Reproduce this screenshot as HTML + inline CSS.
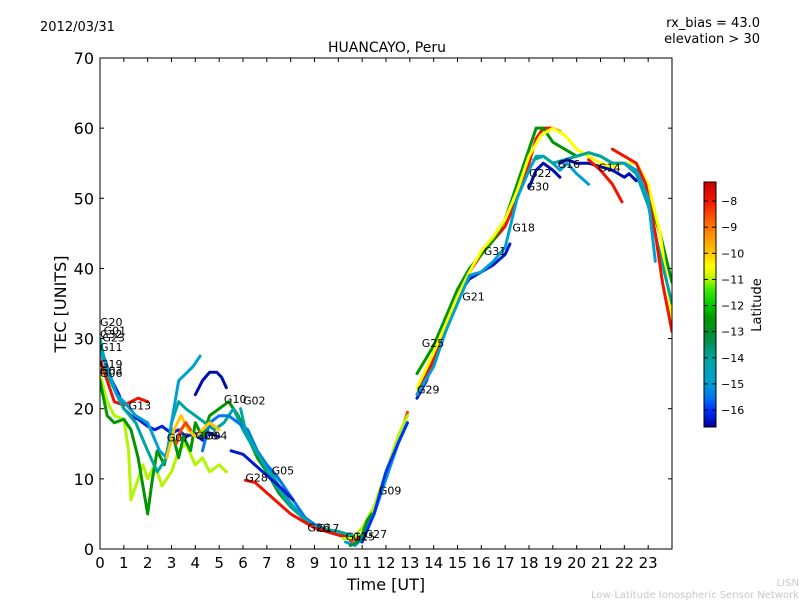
<!DOCTYPE html>
<html><head><meta charset="utf-8"><style>
body{margin:0;background:#fff;}
svg text{font-family:"DejaVu Sans","Liberation Sans",sans-serif;}
</style></head><body>
<svg id="chart" width="800" height="600" xmlns="http://www.w3.org/2000/svg">
<rect width="800" height="600" fill="#fff"/>
<text x="40" y="31" font-size="13">2012/03/31</text>
<text x="760" y="27" font-size="13" text-anchor="end">rx_bias = 43.0</text>
<text x="760" y="43" font-size="13" text-anchor="end">elevation &gt; 30</text>
<text x="387" y="52" font-size="14" text-anchor="middle">HUANCAYO, Peru</text>
<defs><clipPath id="pc"><rect x="100" y="58" width="572" height="491"/></clipPath>
<linearGradient id="cmap" x1="0" y1="1" x2="0" y2="0"></linearGradient></defs>
<g id="series" clip-path="url(#pc)"></g>
<g id="labels"></g>
<rect x="100" y="58" width="572" height="491" fill="none" stroke="#000" stroke-width="1"/>
<g id="axes"></g>
<text x="386" y="590" font-size="16" text-anchor="middle">Time [UT]</text>
<text x="0" y="0" font-size="16" text-anchor="middle" transform="translate(66,304) rotate(-90)">TEC [UNITS]</text>
<rect x="704" y="182" width="12" height="245" fill="url(#cmap)" stroke="#000" stroke-width="1"/>
<g id="cbticks"></g>
<text x="0" y="0" font-size="13" text-anchor="middle" transform="translate(761,305) rotate(-90)">Latitude</text>
<text x="799" y="586" font-size="10" fill="#c8c8c8" text-anchor="end">LISN</text>
<text x="799" y="598" font-size="10" fill="#c8c8c8" text-anchor="end">Low-Latitude Ionospheric Sensor Network</text>
</svg>
<script>
const xTicks=[0,1,2,3,4,5,6,7,8,9,10,11,12,13,14,15,16,17,18,19,20,21,22,23];
const yTicks=[0,10,20,30,40,50,60,70];
const cbTicks=[-8,-9,-10,-11,-12,-13,-14,-15,-16];
const seriesLat=[-16.2,-8,-11,-12.5,-14,-15,-16.5,-15.5,-14.3,-16.3,-8,-10,-8.5,-8.5,-11,-15,-16,-13,-16.3,-8,-12.5,-10.5,-15,-16.5,-14,-8,-16.5,-8,-15];
const seriesT=[
[0,0.2,0.5,0.8,1.0,1.3,1.6,2.0,2.3,2.6,3.0,3.3,3.6,4.0,4.3,4.6,5.0],
[0,0.3,0.6,1.0,1.3,1.6,2.0],
[0,0.3,0.6,1.0,1.2,1.3,1.5,1.8,2.0,2.3,2.6,3.0,3.3,3.6,4.0,4.3,4.6,5.0,5.3],
[0,0.3,0.6,1.0,1.3,1.6,1.8,2.0,2.2,2.4,2.7,3.0,3.3,3.5,3.8,4.0,4.3,4.6,5.0,5.4,5.8,6.2,6.6,7.0,7.5,8.0,8.5,9,9.5,10,10.5],
[0,0.3,0.7,1.0,1.5,2.0,2.4,2.8,3.0,3.3,3.6,4.0,4.4,4.8,5.2,5.6,6.0,6.5,7.0,7.5,8.0,8.5,9.0,9.5,10,10.5,10.8],
[0,0.3,0.7,1.0,1.5,2,2.5,2.8,3.0,3.3,3.6,3.9,4.2],
[4.0,4.3,4.6,4.9,5.1,5.3],
[4.3,4.6,5.0,5.4,5.8,6.2,6.6,7.0,7.4,7.8,8.2,8.6,9,9.5,10,10.5,11],
[5.9,6.1,6.4,6.8,7.2,7.6,8.0,8.5,9.0,9.5,10,10.5],
[5.5,6.0,6.5,7.0,7.5,8.1],
[6.1,6.5,7,7.5,8,8.5,9,9.5,10,10.5],
[2.8,3.1,3.4,3.7,4.0,4.3,4.6,5.0],
[3.2,3.4,3.6,3.8],
[10.5,11,11.5,12,12.5,12.9],
[10.2,10.6,11,11.5,12,12.5,12.9],
[10.3,10.7,11,11.5,12,12.5,12.9],
[11,11.5,12,12.5,12.9],
[10.5,10.8,11,11.2,11.4],
[13.3,13.7,14,14.5,15,15.5,16,16.5,17,17.2],
[13.3,14,14.5,15,15.5,16,16.5,17,17.5,18,18.3,18.6,19,19.3],
[13.3,14,14.5,15,15.5,16,16.5,17,17.5,18,18.3,18.6,19,19.5,20,20.5,21,21.5,22,22.5,23,23.5,24],
[13.3,14,14.5,15,15.5,16,16.5,17,17.5,18,18.5,19,19.5,20,20.5,21,21.5,22,22.5,23,23.5,24],
[13.3,14,14.5,15,15.5,16,16.5,17,17.5,18,18.3,18.6,19,19.3,19.6,20,20.5],
[18.0,18.3,18.6,19.0,19.3],
[18.2,18.6,19,19.5,20,20.5,21,21.5,22,22.5,23,23.5,24],
[21.5,22,22.5,22.9,23.3,23.6,24],
[19.3,19.6,20,20.5,21,21.5,22,22.2,22.5],
[20.5,21,21.5,21.9],
[22,22.5,23,23.3]
];
const seriesV=[
[29,27,24,22,20,19,18.5,17.5,17,17.5,16.5,17,16,16.5,15.5,16.5,16],
[27,24,21,20.5,21,21.5,21],
[25,21,19,18.5,14,7,9,12,10,12,9,11,14,15,12,13,11,12,11],
[24,19,18,18.5,17,13,9,5,10,14,12,17,13,16,14,18,16,19,20,21,19,16,13,11,8,6,4.5,3.5,2.5,2,1.8],
[30,25,22,20,18,14,11,13,18,21,20,19,18,17,18,20,17,14,12,9,6.5,4.5,3.5,2.8,2.5,2,1.5],
[28,26,22,21,19,18,14,13,18,24,25,26,27.5],
[22,24,25.2,25.2,24.5,23],
[14,18,19,19,18,17,14,12,10.5,8.5,6.5,4.5,3.5,2.5,2,1.5,1],
[20,17,15,12.5,10,8,6,4.5,3.2,2.5,2,1.5],
[14,13.5,12,10.5,9,7],
[9.8,9.5,8,6.5,5,4,3,2.5,2,1.5],
[13,17,19,17,16,17,18,17],
[15,17,18,17],
[1,2,5,10,15,19.5],
[1.5,1.5,3,6,11,16,19],
[1,0.5,1.5,5,10,15,18],
[1,5,11,15,18],
[0.5,1,2,4,5],
[21.5,24,27,31,36,38.5,39.5,40.5,42,43.5],
[22,27,31,36,39.5,42,44,46,50,55,58.5,60,60,59.5],
[25,29,33,37,40,42,44,47,52,57,60,60,58,57,56,56.5,56,55,55,54,50,45,38],
[23,28,32,36,39.5,42.5,44.5,47,51,56,59,60,59,57,56,55,54.5,55,55,52,45,33],
[22,26,31,35,39,39.5,41,43,50,54,56,56,55,54,55,53.5,52],
[51.5,54,55,54,53],
[55.5,56,55,55.5,56,56.5,56,55,55,53.5,49,42,35],
[57,56,55,52,45,38,31],
[55,55.5,55,55,54.5,54,53,53.5,52.5],
[55.5,54,52,49.5],
[55,54,50,41]
];
const labelNames=["G20","G01","G32","G23","G11","G19","G03","G06","G13","G07","G08","G04","G10","G02","G05","G28","G26","G17","G12","G15","G27","G09","G29","G25","G21","G31","G18","G30","G22","G16","G14"];
const labelT=[0,0.15,0,0.1,0,0,0,0,1.2,2.8,4.0,4.4,5.2,6.0,7.2,6.1,8.7,9.1,10.3,10.6,11.1,11.7,13.3,13.5,15.2,16.1,17.3,17.9,18.0,19.2,20.9];
const labelV=[31.8,30.6,30.1,29.6,28.2,25.8,24.9,24.5,19.9,15.3,15.6,15.6,20.8,20.6,10.6,9.6,2.5,2.4,1.2,1.2,1.6,7.8,22.2,28.8,35.4,41.9,45.3,51.1,53.0,54.3,53.8];
const NS="http://www.w3.org/2000/svg";
const X=t=>100+t*572/24, Y=v=>549-v*491/70;
const cmLat=[-16.65,-16,-15.5,-15,-14,-13.3,-12.5,-12,-11.4,-11,-10.5,-10,-9,-8,-7.27];
const cmCol=[[0,0,150],[0,50,255],[0,120,240],[0,160,210],[0,165,160],[0,140,70],[0,150,0],[0,200,0],[60,235,0],[180,245,0],[255,255,0],[255,200,0],[255,120,0],[240,20,0],[200,0,0]];
function cmap(lat){lat=Math.max(-16.65,Math.min(-7.27,lat));
 for(let i=0;i<cmLat.length-1;i++){if(lat<=cmLat[i+1]){const f=(lat-cmLat[i])/(cmLat[i+1]-cmLat[i]);
 const c=cmCol[i].map((a,k)=>Math.round(a+(cmCol[i+1][k]-a)*f));return `rgb(${c[0]},${c[1]},${c[2]})`;}}
 return 'rgb(200,0,0)';}
const grad=document.getElementById('cmap');
cmLat.forEach((l,i)=>{const s=document.createElementNS(NS,'stop');s.setAttribute('offset',(l+16.65)/9.38);s.setAttribute('stop-color',`rgb(${cmCol[i].join(',')})`);grad.appendChild(s);});
const sg=document.getElementById('series');
for(let i=0;i<seriesT.length;i++){
 const p=document.createElementNS(NS,'polyline');
 p.setAttribute('points',seriesT[i].map((t,j)=>X(t)+','+Y(seriesV[i][j])).join(' '));
 p.setAttribute('fill','none');p.setAttribute('stroke',cmap(seriesLat[i]));
 p.setAttribute('stroke-width','3');p.setAttribute('stroke-linejoin','round');p.setAttribute('stroke-linecap','round');
 
 
 sg.appendChild(p);}
const lg=document.getElementById('labels');
labelNames.forEach((n,i)=>{const t=document.createElementNS(NS,'text');
 t.setAttribute('x',X(labelT[i]));t.setAttribute('y',Y(labelV[i]));t.setAttribute('font-size','11');t.textContent=n;
 
 
 lg.appendChild(t);});
const ax=document.getElementById('axes');
function ln(x1,y1,x2,y2,g){const l=document.createElementNS(NS,'line');l.setAttribute('x1',x1);l.setAttribute('y1',y1);l.setAttribute('x2',x2);l.setAttribute('y2',y2);l.setAttribute('stroke','#000');
 
 
 g.appendChild(l);}
function tx(x,y,s,a,size,g){const t=document.createElementNS(NS,'text');t.setAttribute('x',x);t.setAttribute('y',y);t.setAttribute('font-size',size);t.setAttribute('text-anchor',a);t.textContent=s;
 
 
 g.appendChild(t);}
xTicks.forEach(t=>{const x=X(t);ln(x,549,x,545,ax);ln(x,58,x,62,ax);tx(x,568,String(t),'middle',15,ax);});
yTicks.forEach(v=>{const y=Y(v);ln(100,y,104,y,ax);ln(672,y,668,y,ax);tx(94,y+6,String(v),'end',16,ax);});
const cg=document.getElementById('cbticks');
cbTicks.forEach(v=>{const y=427-(v+16.65)*245/9.38;ln(716,y,712,y,cg);ln(704,y,708,y,cg);tx(721,y+4,'\u2212'+Math.abs(v),'start',11,cg);});
</script>
</body></html>
